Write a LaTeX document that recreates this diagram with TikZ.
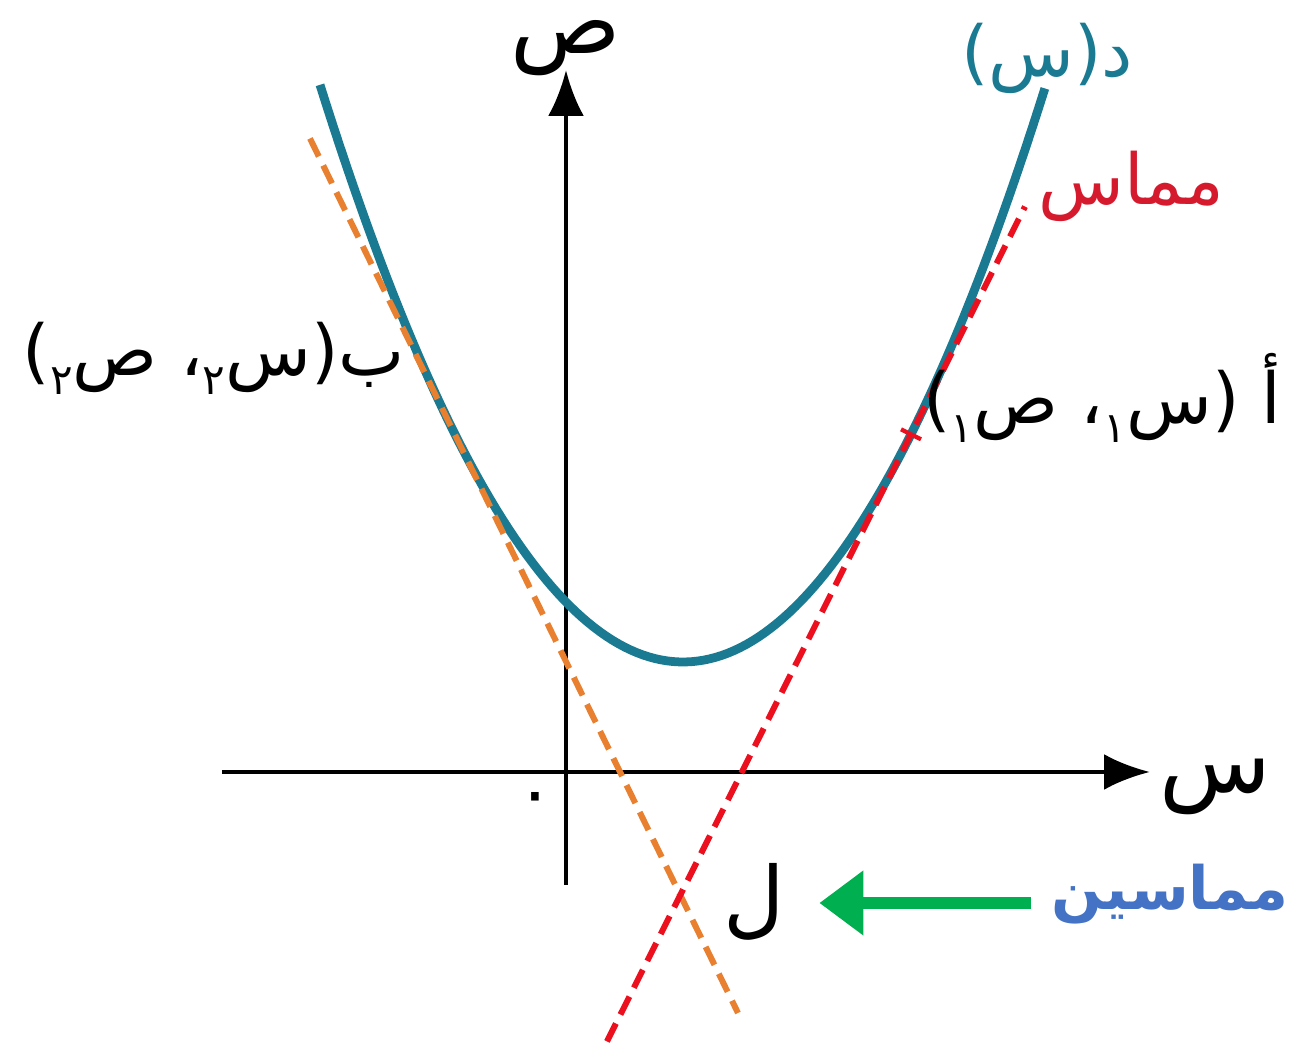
\documentclass[tikz,border=0pt]{standalone}
\usepackage{fontspec}
\newfontfamily\arabicfont[Script=Arabic]{DejaVu Sans}
\TeXXeTstate=1
\usetikzlibrary{arrows.meta, calc}

\definecolor{curveteal}{RGB}{25,122,146}
\definecolor{tanorange}{RGB}{232,128,48}
\definecolor{tanred}{RGB}{236,16,30}
\definecolor{lblred}{RGB}{214,26,46}
\definecolor{arrgreen}{RGB}{0,176,80}
\definecolor{lblblue}{RGB}{68,114,196}

% small lowered index digit
\newcommand{\idx}[1]{\raisebox{-0.5ex}{\fontsize{12}{12}\selectfont #1}}

\begin{document}
\begin{tikzpicture}[
  every node/.style={font=\arabicfont\fontsize{20}{24}\selectfont, inner sep=0pt},
  axisline/.style={line width=1.3pt, -{Latex[length=4.6mm, width=3.6mm]}},
  curve/.style={curveteal, line width=2.5pt},
  tangentB/.style={tanorange, line width=1.7pt, dash pattern=on 2mm off 1mm},
  tangentA/.style={tanred, line width=1.7pt, dash pattern=on 2mm off 1mm},
  pointer/.style={arrgreen, line width=3.6pt, -{Triangle[length=4.4mm, width=6.2mm]}},
  axislbl/.style={font=\arabicfont\fontsize{26}{28}\selectfont, text height=0.45cm, text depth=0.15cm}
]
  \useasboundingbox (-5.66,-2.80) rectangle (7.27,7.72);

  % axes
  \coordinate (O) at (0,0);
  \coordinate (xs) at (-3.44,0);
  \coordinate (xe) at (5.84,0);
  \coordinate (ys) at (0,-1.13);
  \coordinate (ye) at (0,7.02);
  \draw[axisline] (xs) -- (xe);
  \draw[axisline] (ys) -- (ye);
  \node[axislbl] (lblx) at (6.49,-0.06) {س};
  \node[axislbl] (lbly) at (0.0,7.33) {ص};
  \node[font=\arabicfont\fontsize{20}{20}\selectfont] (zero) at (-0.31,-0.33) {٠};

  % the curve and its two tangents
  \draw[curve] plot[domain=-2.46:4.79, samples=120] (\x, {1.10+0.438*(\x-1.17)*(\x-1.17)});
  \coordinate (B) at (-1.163,3.484);
  \coordinate (A) at (3.45,3.377);
  \coordinate (tB1) at (-2.56,6.335);
  \coordinate (tB2) at (1.72,-2.41);
  \coordinate (tA1) at (4.59,5.654);
  \coordinate (tA2) at (0.41,-2.694);
  \draw[tangentB] (tB1) -- (tB2);
  \draw[tangentA] (tA2) -- (tA1);
  \draw[tanred, line width=1.2pt] ($(A)+(-0.1,0.05)$) -- ($(A)+(0.1,-0.05)$);

  % labels
  \node[text=curveteal] (fx) at (4.81,7.14) {\beginR د(س)\endR};
  \node[text=lblred] (tanlbl) at (5.65,5.86) {\beginR مماس\endR};
  \node[anchor=east] (ptA) at (7.16,3.74) {\beginR أ (س\idx{١}، ص\idx{١})\endR};
  \node[anchor=west] (ptB) at (-5.44,4.14) {\beginR ب(س\idx{٢}، ص\idx{٢})\endR};
  \node[font=\arabicfont\fontsize{24}{28}\selectfont] (L) at (1.88,-1.30) {ل};
  \node[text=lblblue, anchor=east, font=\arabicfont\bfseries\fontsize{17}{20}\selectfont] (twotan) at (7.23,-1.22) {\beginR مماسين\endR};
  \coordinate (ptrstart) at ([yshift=-0.9mm]twotan.west);
  \draw[pointer, shorten <=2mm, shorten >=3.4mm] (ptrstart) -- (L.east |- ptrstart);
\end{tikzpicture}
\end{document}
